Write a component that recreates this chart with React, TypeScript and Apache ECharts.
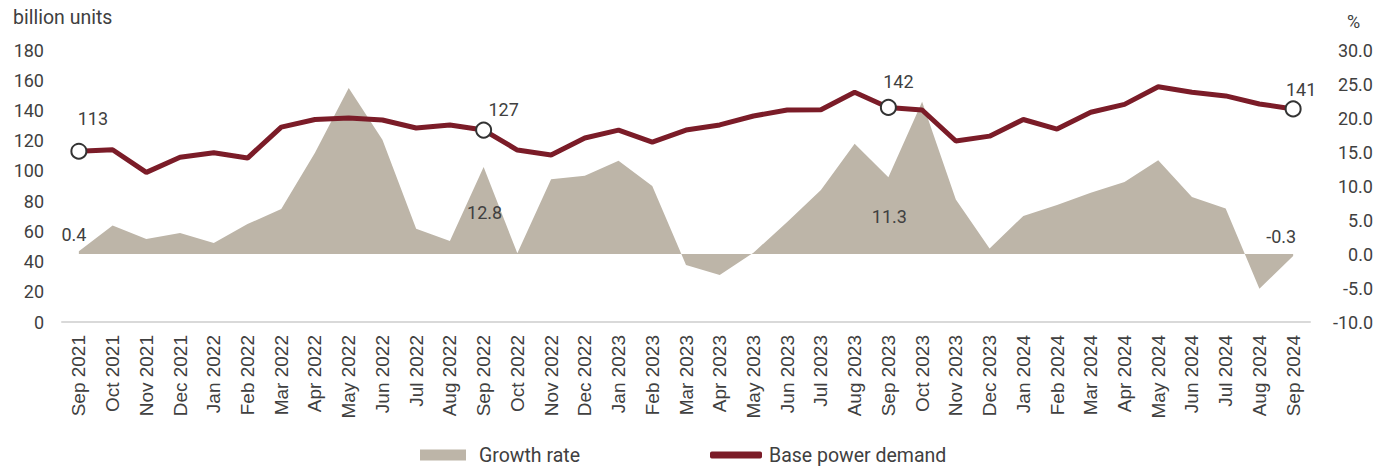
import React, { useEffect, useRef } from "react";
import * as echarts from "echarts";

const categories = [
  "Sep 2021", "Oct 2021", "Nov 2021", "Dec 2021", "Jan 2022", "Feb 2022", "Mar 2022", "Apr 2022",
  "May 2022", "Jun 2022", "Jul 2022", "Aug 2022", "Sep 2022", "Oct 2022", "Nov 2022", "Dec 2022",
  "Jan 2023", "Feb 2023", "Mar 2023", "Apr 2023", "May 2023", "Jun 2023", "Jul 2023", "Aug 2023",
  "Sep 2023", "Oct 2023", "Nov 2023", "Dec 2023", "Jan 2024", "Feb 2024", "Mar 2024", "Apr 2024",
  "May 2024", "Jun 2024", "Jul 2024", "Aug 2024", "Sep 2024",
];

const basePowerDemand = [
  113, 114, 99, 109, 112, 108.5, 129, 134, 135, 133.7, 128.4, 130.4, 127, 113.8, 110.5, 121.8,
  127, 119, 127, 130.4, 136.3, 140.3, 140.5, 152, 142, 140.3, 119.8, 123, 134, 127.7, 138.8, 144,
  155.7, 152, 149.6, 144.3, 141,
];

const growthRate = [
  0.4, 4.2, 2.2, 3.1, 1.6, 4.4, 6.6, 14.9, 24.4, 16.8, 3.7, 1.9, 12.8, 0.1, 11.0, 11.5,
  13.7, 10.0, -1.6, -3.1, 0.2, 4.7, 9.4, 16.2, 11.3, 22.4, 8.0, 0.8, 5.6, 7.2, 9.0, 10.6,
  13.8, 8.4, 6.7, -5.1, -0.3,
];

const leftTicks = { min: 0, max: 180, interval: 20 };
const rightTicks = { min: -10, max: 30, interval: 5 };

const lineLabelIdx: Record<number, number[]> = { 0: [14, -10], 12: [20, 2], 24: [10, -3], 36: [8, 3] };
const areaLabelCfg: Record<number, any> = {
  0: { position: "top", offset: [-5, -2] },
  12: { position: "bottom", offset: [1, 31] },
  24: { position: "bottom", offset: [1, 25] },
  36: { position: "top", offset: [-12, -5] },
};

const textColor = "#404040";
const numFont = "Roboto";
const lineColor = "#7B1C28";
const areaColor = "#BDB5A8";

export default function App() {
  const ref = useRef<HTMLDivElement>(null);
  useEffect(() => {
    document.body.style.margin = "0";
    if (!ref.current) return;
    const chart = echarts.init(ref.current, undefined, { renderer: "svg" });

    const lineData = basePowerDemand.map((v, i) => {
      if (lineLabelIdx[i] !== undefined) {
        return {
          value: v,
          symbol: "circle",
          symbolSize: 15,
          itemStyle: { color: "#ffffff", borderColor: "#333333", borderWidth: 2 },
          label: {
            show: true,
            position: "top",
            offset: lineLabelIdx[i],
            formatter: String(Math.round(v)),
            fontSize: 18,
            color: textColor,
            fontFamily: numFont,
          },
        };
      }
      return { value: v, symbol: "none" };
    });

    const areaData = growthRate.map((v, i) => {
      const cfg = areaLabelCfg[i];
      if (cfg) {
        return {
          value: v,
          symbol: "circle",
          symbolSize: 1,
          itemStyle: { color: "rgba(0,0,0,0)" },
          label: {
            show: true,
            position: cfg.position,
            offset: cfg.offset,
            formatter: v.toFixed(1),
            fontSize: 18,
            color: textColor,
            fontFamily: numFont,
          },
        };
      }
      return { value: v, symbol: "none" };
    });

    chart.setOption({
      animation: false,
      grid: { left: 62, right: 78, top: 50, bottom: 144, containLabel: false },
      legend: [
        {
          left: 420,
          top: 445,
          padding: 0,
          itemWidth: 46,
          itemHeight: 11,
          textStyle: { fontSize: 19.5, color: textColor, fontFamily: numFont, padding: [0, 0, 0, 8] },
          data: [{ name: "Growth rate", icon: "rect" }],
        },
        {
          left: 710,
          top: 445,
          padding: 0,
          itemWidth: 52,
          itemHeight: 7,
          textStyle: { fontSize: 19.5, color: textColor, fontFamily: numFont, padding: [0, 0, 0, 2] },
          data: [{ name: "Base power demand", icon: "roundRect", itemStyle: { color: lineColor } }],
        },
      ],
      graphic: [
        {
          type: "text",
          left: 13,
          top: 7,
          style: { text: "billion units", fontSize: 19.5, fill: textColor, fontFamily: numFont },
        },
        {
          type: "text",
          left: 1347,
          top: 12,
          style: { text: "%", fontSize: 18, fill: textColor, fontFamily: numFont },
        },
      ],
      xAxis: {
        type: "category",
        data: categories,
        boundaryGap: true,
        axisLine: { lineStyle: { color: "#d9d9d9", width: 2 } },
        axisTick: { show: false },
        axisLabel: {
          rotate: 90,
          interval: 0,
          margin: 13,
          fontSize: 19,
          color: textColor,
          fontFamily: "Liberation Sans",
        },
      },
      yAxis: [
        {
          type: "value",
          ...leftTicks,
          splitLine: { show: false },
          axisLine: { show: false },
          axisTick: { show: false },
          axisLabel: { margin: 18, fontSize: 18, color: textColor, fontFamily: numFont },
        },
        {
          type: "value",
          ...rightTicks,
          position: "right",
          splitLine: { show: false },
          axisLine: { show: false },
          axisTick: { show: false },
          axisLabel: {
            margin: 63,
            align: "right",
            fontSize: 18,
            color: textColor,
            fontFamily: numFont,
            formatter: (v: number) => v.toFixed(1),
          },
        },
      ],
      series: [
        {
          name: "Growth rate",
          type: "line",
          yAxisIndex: 1,
          data: areaData,
          lineStyle: { width: 0 },
          itemStyle: { color: areaColor },
          areaStyle: { color: areaColor, opacity: 1 },
          z: 1,
        },
        {
          name: "Base power demand",
          type: "line",
          yAxisIndex: 0,
          data: lineData,
          lineStyle: { color: lineColor, width: 5 },
          itemStyle: { color: lineColor },
          z: 3,
        },
      ],
    });
    return () => chart.dispose();
  }, []);
  return <div ref={ref} style={{ width: 1388, height: 466 }} />;
}
